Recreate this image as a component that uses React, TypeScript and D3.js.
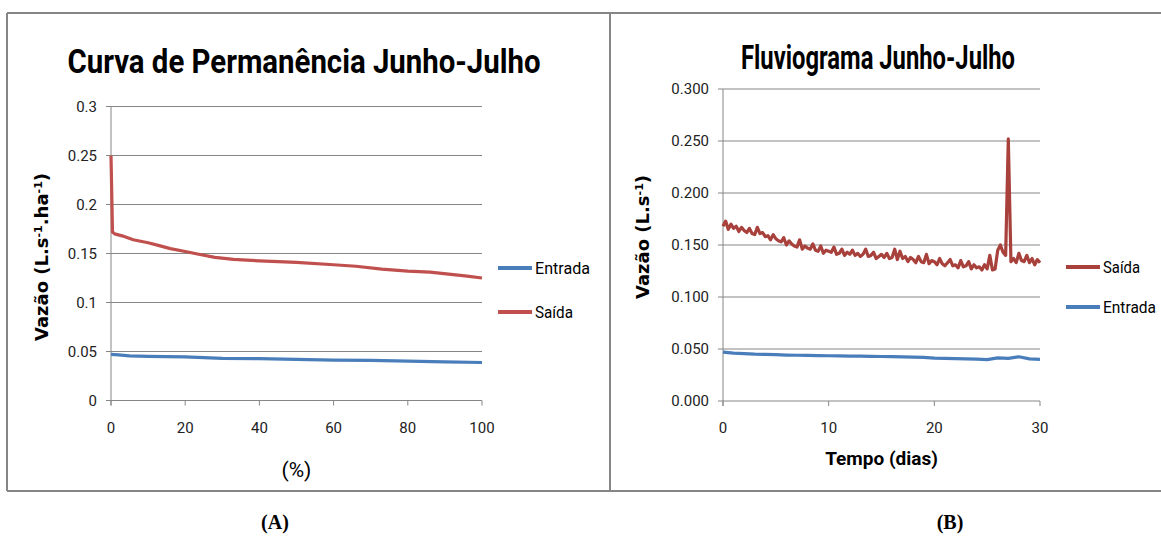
import React from "react";
import * as d3 from "d3";

// Curva de permanência (A): % of time vs flow
const permPct = [0, 0.4, 1, 3, 6, 10, 13, 16, 20, 24, 28, 33, 40, 50, 60, 66, 73, 80, 86, 91, 96, 100];
const permSaida = [0.25, 0.172, 0.17, 0.168, 0.164, 0.161, 0.158, 0.155, 0.152, 0.149, 0.146, 0.144, 0.1425, 0.141, 0.1385, 0.137, 0.134, 0.132, 0.131, 0.129, 0.127, 0.125];
const permPctEntrada = [0, 2, 5, 10, 20, 30, 40, 50, 60, 70, 80, 90, 100];
const permEntrada = [0.047, 0.0465, 0.0455, 0.045, 0.0445, 0.043, 0.0428, 0.042, 0.0413, 0.041, 0.0402, 0.0395, 0.0388];

// Fluviograma (B): quarter-day readings of Saída, daily Entrada
const fluvStep = 0.25;
const fluvSaida = [
  0.168, 0.173, 0.165, 0.170, 0.166, 0.168, 0.163, 0.167,
  0.164, 0.162, 0.166, 0.161, 0.160, 0.167, 0.161, 0.162,
  0.158, 0.159, 0.155, 0.160, 0.156, 0.154, 0.153, 0.157,
  0.150, 0.154, 0.151, 0.149, 0.148, 0.155, 0.146, 0.149,
  0.147, 0.146, 0.151, 0.145, 0.144, 0.149, 0.142, 0.145,
  0.144, 0.143, 0.148, 0.141, 0.142, 0.146, 0.140, 0.143,
  0.141, 0.145, 0.140, 0.142, 0.139, 0.141, 0.146, 0.139,
  0.140, 0.143, 0.137, 0.139, 0.141, 0.138, 0.142, 0.137,
  0.138, 0.146, 0.136, 0.144, 0.137, 0.139, 0.134, 0.138,
  0.136, 0.133, 0.139, 0.134, 0.133, 0.141, 0.132, 0.135,
  0.134, 0.131, 0.137, 0.132, 0.130, 0.133, 0.136, 0.130,
  0.131, 0.128, 0.135, 0.129, 0.130, 0.134, 0.127, 0.131,
  0.128, 0.129, 0.126, 0.131, 0.127, 0.140, 0.126, 0.127,
  0.145, 0.150, 0.143, 0.140, 0.252, 0.134, 0.137, 0.133,
  0.142, 0.135, 0.134, 0.140, 0.133, 0.137, 0.131, 0.136,
  0.133,
];
const fluvDias = [0, 1, 2, 3, 4, 5, 6, 7, 8, 9, 10, 11, 12, 13, 14, 15, 16, 17, 18, 19, 20, 21, 22, 23, 24, 25, 26, 27, 28, 29, 30];
const fluvEntrada = [0.047, 0.046, 0.0455, 0.045, 0.0448, 0.0445, 0.0442, 0.044, 0.0438, 0.0436, 0.0435, 0.0434, 0.0432, 0.0431, 0.043, 0.0428, 0.0426, 0.0424, 0.0422, 0.042, 0.0412, 0.041, 0.0408, 0.0405, 0.0402, 0.0398, 0.0415, 0.041, 0.0425, 0.0405, 0.040];

const permXTicks = [0, 20, 40, 60, 80, 100];
const permYTicks = [0, 0.05, 0.1, 0.15, 0.2, 0.25, 0.3];
const fluvXTicks = [0, 10, 20, 30];
const fluvYTicks = [0, 0.05, 0.1, 0.15, 0.2, 0.25, 0.3];

const narrow = "Roboto, sans-serif";
const grid = "#868686";
const blue = "#4A7EBB";
const redA = "#C0504D";
const redB = "#A8403C";

function Panel(props: any) {
  const { x, y, xTicks, yTicks, yFmt, series, title, titleX, titleY, titleW, yLabel, yLabelX, yLabelY, xLabel, xLabelY, xLabelBold, legend } = props;
  const [x0, x1] = x.range();
  const yBottom = y(0);
  return (
    <g>
      {yTicks.map((t: number) => (
        <g key={"g" + t}>
          <line x1={x0 - 5} x2={x1} y1={y(t)} y2={y(t)} stroke={grid} strokeWidth={1} />
          <text x={x0 - 14} y={y(t)} dy="0.35em" textAnchor="end" fontFamily={narrow} fontSize={15} fill="#222">
            {yFmt(t)}
          </text>
        </g>
      ))}
      <line x1={x0} x2={x0} y1={y(yTicks[yTicks.length - 1])} y2={yBottom + 5} stroke={grid} />
      {xTicks.map((t: number) => (
        <g key={"x" + t}>
          <line x1={x(t)} x2={x(t)} y1={yBottom} y2={yBottom + 5} stroke={grid} />
          <text x={x(t)} y={yBottom + 32} textAnchor="middle" fontFamily={narrow} fontSize={15} fill="#222">
            {t}
          </text>
        </g>
      ))}
      {series.map((s: any, i: number) => {
        const line = d3
          .line<number>()
          .x((_, j) => x(s.xs[j]))
          .y((d) => y(d));
        return <path key={i} d={line(s.ys) || ""} fill="none" stroke={s.color} strokeWidth={3.2} strokeLinejoin="round" />;
      })}
      <text
        x={titleX - titleW / 2}
        y={titleY}
        textLength={titleW}
        lengthAdjust="spacingAndGlyphs"
        fontFamily={narrow}
        fontWeight="bold"
        fontSize={34}
        fill="#000"
      >
        {title}
      </text>
      <text
        transform={`translate(${yLabelX},${yLabelY}) rotate(-90)`}
        textAnchor="middle"
        fontFamily="'DejaVu Sans', Verdana, sans-serif"
        fontWeight="bold"
        fontSize={18}
        fill="#000"
      >
        {yLabel}
      </text>
      <text
        x={(x0 + x1) / 2}
        y={xLabelY}
        textAnchor="middle"
        fontFamily={narrow}
        fontWeight={xLabelBold ? "bold" : "normal"}
        fontSize={xLabelBold ? 19 : 21}
        fill="#000"
      >
        {xLabel}
      </text>
      {legend.map((l: any) => (
        <g key={l.name}>
          <line x1={l.x} x2={l.x + 34} y1={l.y} y2={l.y} stroke={l.color} strokeWidth={4} />
          <text
            x={l.x + 37}
            y={l.y}
            dy="0.35em"
            textLength={l.w}
            lengthAdjust="spacingAndGlyphs"
            fontFamily={narrow}
            fontSize={16}
            fill="#000"
          >
            {l.name}
          </text>
        </g>
      ))}
    </g>
  );
}

export default function App() {
  const xA = d3.scaleLinear().domain([0, 100]).range([111, 482]);
  const yA = d3.scaleLinear().domain([0, 0.3]).range([400.5, 106.5]);
  const xB = d3.scaleLinear().domain([0, 30]).range([723, 1040]);
  const yB = d3.scaleLinear().domain([0, 0.3]).range([401, 89]);
  const fluvTempo = fluvSaida.map((_, i) => i * fluvStep);

  const sup = (s: string) => (
    <tspan baselineShift="super" fontSize={11}>
      {s}
    </tspan>
  );

  return (
    <svg width={1161} height={536} style={{ position: "absolute", left: 0, top: 0, background: "#fff" }}>
      <rect x={0} y={0} width={1161} height={536} fill="#fff" />
      <line x1={7} x2={1161} y1={13} y2={13} stroke={grid} strokeWidth={2} />
      <line x1={7} x2={1161} y1={491} y2={491} stroke={grid} strokeWidth={2} />
      <line x1={7} x2={7} y1={13} y2={491} stroke={grid} strokeWidth={2} />
      <line x1={610} x2={610} y1={13} y2={491} stroke={grid} strokeWidth={2} />

      <Panel
        x={xA}
        y={yA}
        xTicks={permXTicks}
        yTicks={permYTicks}
        yFmt={(t: number) => d3.format("~g")(t)}
        series={[
          { xs: permPctEntrada, ys: permEntrada, color: blue },
          { xs: permPct, ys: permSaida, color: redA },
        ]}
        title="Curva de Permanência Junho-Julho"
        titleX={304}
        titleY={73}
        titleW={473}
        yLabel={<>Vazão (L.s{sup("-1")}.ha{sup("-1")})</>}
        yLabelX={48}
        yLabelY={257}
        xLabel="(%)"
        xLabelY={477}
        xLabelBold={false}
        legend={[
          { name: "Entrada", color: blue, x: 498, y: 268, w: 55 },
          { name: "Saída", color: redA, x: 498, y: 312, w: 38 },
        ]}
      />
      <Panel
        x={xB}
        y={yB}
        xTicks={fluvXTicks}
        yTicks={fluvYTicks}
        yFmt={d3.format(".3f")}
        series={[
          { xs: fluvDias, ys: fluvEntrada, color: blue },
          { xs: fluvTempo, ys: fluvSaida, color: redB },
        ]}
        title="Fluviograma Junho-Julho"
        titleX={878}
        titleY={69}
        titleW={274}
        yLabel={<>Vazão (L.s{sup("-1")})</>}
        yLabelX={649}
        yLabelY={237}
        xLabel="Tempo (dias)"
        xLabelY={465}
        xLabelBold={true}
        legend={[
          { name: "Saída", color: redB, x: 1066, y: 267, w: 37 },
          { name: "Entrada", color: blue, x: 1066, y: 307, w: 53 },
        ]}
      />
      <text x={275} y={529} textAnchor="middle" fontFamily="'Liberation Serif', 'Times New Roman', serif" fontWeight="bold" fontSize={20}>
        (A)
      </text>
      <text x={950} y={529} textAnchor="middle" fontFamily="'Liberation Serif', 'Times New Roman', serif" fontWeight="bold" fontSize={20}>
        (B)
      </text>
    </svg>
  );
}
